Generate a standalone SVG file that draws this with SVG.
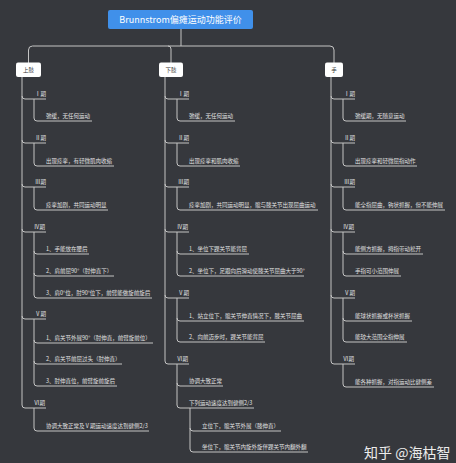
<svg xmlns="http://www.w3.org/2000/svg" width="456" height="463" viewBox="0 0 456 463">
<style>
.bg{fill:#36383d}
.ln{fill:none;stroke:#c4c4c4;stroke-width:1}
.t{font-family:"Noto Sans CJK SC","Noto Sans",sans-serif;font-size:5.5px;fill:#e2e2e2}
.n1 rect{fill:#ffffff}
.n1 text{font-family:"Noto Sans CJK SC","Noto Sans",sans-serif;font-size:5.5px;fill:#333333;text-anchor:middle}
</style>
<rect class="bg" x="0" y="0" width="456" height="463"/>
<g id="connectors" class="ln">
<path d="M181,29 V46"/>
<path d="M28.5,63 V50 Q28.5,46 32.5,46 H330 Q334,46 334,50 V63"/>
<path d="M168,46 Q171,46 171,49 V63"/>
<!-- column A trunk -->
<path d="M22,77 V405"/>
<path d="M22,96 Q22,99 25,99 H46"/><path d="M22,140 Q22,143 25,143 H46"/><path d="M22,184 Q22,187 25,187 H46"/><path d="M22,229 Q22,232 25,232 H46"/><path d="M22,316 Q22,319 25,319 H46"/><path d="M22,405 Q22,408 25,408 H46"/>
<path d="M34,99 V118 Q34,121 37,121 H92"/>
<path d="M34,143 V163 Q34,166 37,166 H114"/>
<path d="M34,187 V207 Q34,210 37,210 H108"/>
<path d="M34,232 V295"/><path d="M34,251 Q34,254 37,254 H89"/><path d="M34,273 Q34,276 37,276 H114"/><path d="M34,295 Q34,298 37,298 H152"/>
<path d="M34,319 V383"/><path d="M34,340 Q34,343 37,343 H153"/><path d="M34,361 Q34,364 37,364 H122"/><path d="M34,383 Q34,386 37,386 H117"/>
<path d="M34,408 V428 Q34,431 37,431 H149"/>
<!-- column B -->
<path d="M165,77 V361"/>
<path d="M165,96 Q165,99 168,99 H189"/><path d="M165,140 Q165,143 168,143 H189"/><path d="M165,184 Q165,187 168,187 H189"/><path d="M165,229 Q165,232 168,232 H189"/><path d="M165,295 Q165,298 168,298 H189"/><path d="M165,361 Q165,364 168,364 H189"/>
<path d="M177,99 V118 Q177,121 180,121 H235"/>
<path d="M177,143 V163 Q177,166 180,166 H240"/>
<path d="M177,187 V207 Q177,210 180,210 H318"/>
<path d="M177,232 V273"/><path d="M177,251 Q177,254 180,254 H249"/><path d="M177,273 Q177,276 180,276 H304"/>
<path d="M177,298 V339"/><path d="M177,318 Q177,321 180,321 H304"/><path d="M177,339 Q177,342 180,342 H265"/>
<path d="M177,364 V405"/><path d="M177,383 Q177,386 180,386 H223"/><path d="M177,405 Q177,408 180,408 H254"/>
<path d="M190,408 V449"/><path d="M190,428 Q190,431 193,431 H281"/><path d="M190,449 Q190,452 193,452 H308"/>
<!-- column C -->
<path d="M331,77 V361"/>
<path d="M331,96 Q331,99 334,99 H355"/><path d="M331,140 Q331,143 334,143 H355"/><path d="M331,184 Q331,187 334,187 H355"/><path d="M331,229 Q331,232 334,232 H355"/><path d="M331,295 Q331,298 334,298 H355"/><path d="M331,361 Q331,364 334,364 H355"/>
<path d="M343,99 V118 Q343,121 346,121 H406"/>
<path d="M343,143 V163 Q343,166 346,166 H417"/>
<path d="M343,187 V207 Q343,210 346,210 H445"/>
<path d="M343,232 V273"/><path d="M343,251 Q343,254 346,254 H423"/><path d="M343,273 Q343,276 346,276 H401"/>
<path d="M343,298 V339"/><path d="M343,318 Q343,321 346,321 H412"/><path d="M343,339 Q343,342 346,342 H407"/>
<path d="M343,364 V384 Q343,387 346,387 H434"/>
</g>
<g id="root">
<rect x="108" y="10" width="145" height="19" rx="2" fill="#4090ea"/>
<text x="180.5" y="22.6" font-family="'Noto Sans CJK SC','Noto Sans',sans-serif" font-size="9" fill="#ffffff" text-anchor="middle">Brunnstrom偏瘫运动功能评价</text>
</g>
<g id="upper" class="n1"><rect x="16" y="62.5" width="25" height="14.5" rx="2"/><text x="28.5" y="71.8">上肢</text></g>
<g id="lower" class="n1"><rect x="159" y="62.5" width="24" height="14.5" rx="2"/><text x="171" y="71.8">下肢</text></g>
<g id="hand" class="n1"><rect x="325" y="62.5" width="18" height="14.5" rx="2"/><text x="334" y="71.8">手</text></g>
<g id="upper-items" class="t">
<text x="35" y="96">Ⅰ期</text><text x="46" y="118">弛缓，无任何运动</text>
<text x="35" y="140">Ⅱ期</text><text x="46" y="163">出现痉挛，有轻微肌肉收缩</text>
<text x="35" y="184">Ⅲ期</text><text x="46" y="207">痉挛加剧，共同运动明显</text>
<text x="34" y="229">Ⅳ期</text><text x="46" y="251">1、手能放在腰后</text><text x="46" y="273">2、肩前屈90°（肘伸直下）</text><text x="46" y="295">3、肩0°位，肘90°位下，前臂能做旋前旋后</text>
<text x="35" y="316">Ⅴ期</text><text x="46" y="340">1、肩关节外展90°（肘伸直，前臂旋前位）</text><text x="46" y="361">2、肩关节前屈过头（肘伸直）</text><text x="46" y="383">3、肘伸直位，前臂旋前旋后</text>
<text x="34" y="405">Ⅵ期</text><text x="46" y="428">协调大致正常及Ⅴ期运动速度达到健侧2/3</text>
</g>
<g id="lower-items" class="t">
<text x="178" y="96">Ⅰ期</text><text x="189" y="118">弛缓，无任何运动</text>
<text x="178" y="140">Ⅱ期</text><text x="189" y="163">出现痉挛和肌肉收缩</text>
<text x="178" y="184">Ⅲ期</text><text x="189" y="207">痉挛加剧，共同运动明显，髋与膝关节出现屈曲运动</text>
<text x="177" y="229">Ⅳ期</text><text x="189" y="251">1、坐位下踝关节能背屈</text><text x="189" y="273">2、坐位下，足跟向后滑动使膝关节屈曲大于90°</text>
<text x="178" y="295">Ⅴ期</text><text x="189" y="318">1、站立位下，髋关节伸直情况下，膝关节屈曲</text><text x="189" y="339">2、向前迈步时，踝关节能背屈</text>
<text x="177" y="361">Ⅵ期</text><text x="189" y="383">协调大致正常</text><text x="189" y="405">下列运动速度达到健侧2/3</text>
<text x="202" y="428">立位下，髋关节外展（膝伸直）</text><text x="202" y="449">坐位下，髋关节内旋外旋伴踝关节内翻外翻</text>
</g>
<g id="hand-items" class="t">
<text x="344" y="96">Ⅰ期</text><text x="355" y="118">弛缓期，无随意运动</text>
<text x="344" y="140">Ⅱ期</text><text x="355" y="163">出现痉挛和轻微屈指动作</text>
<text x="344" y="184">Ⅲ期</text><text x="355" y="207">能全指屈曲，钩状抓握，但不能伸展</text>
<text x="343" y="229">Ⅳ期</text><text x="355" y="251">能侧方抓握，拇指带动松开</text><text x="355" y="273">手指可小范围伸展</text>
<text x="344" y="295">Ⅴ期</text><text x="355" y="318">能球状抓握或杯状抓握</text><text x="355" y="339">能较大范围全指伸展</text>
<text x="343" y="361">Ⅵ期</text><text x="355" y="384">能各种抓握，对指运动比健侧差</text>
</g>
<text x="364" y="458" font-family="'Noto Sans CJK SC','Noto Sans',sans-serif" font-size="14" fill="#ececec">知乎 @海枯智</text>
</svg>
